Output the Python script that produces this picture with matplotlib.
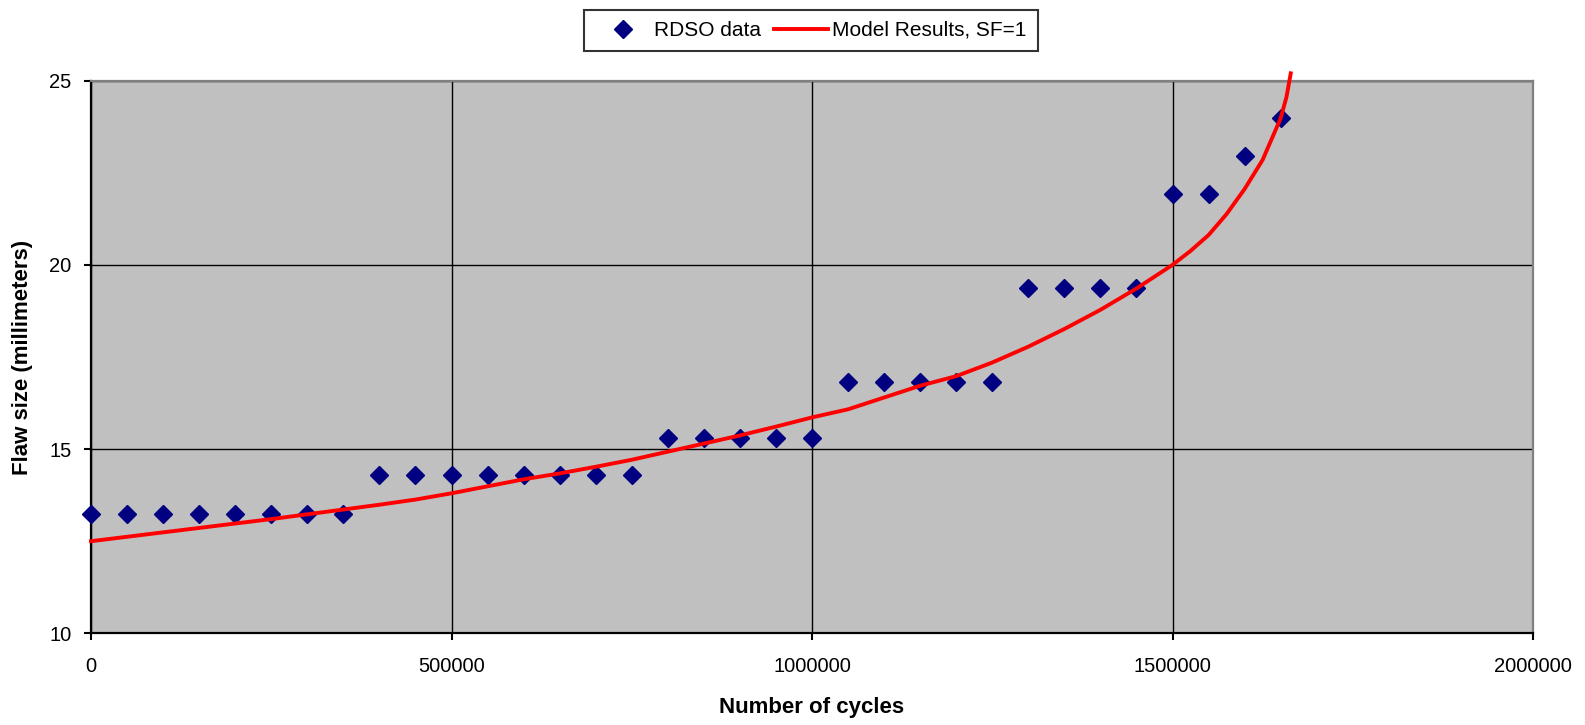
import matplotlib
matplotlib.use("Agg")
import matplotlib.pyplot as plt

plt.rcParams['font.family'] = ['Liberation Sans', 'DejaVu Sans']

# Measured crack growth (RDSO)
rdso_cycles = [0, 50000, 100000, 150000, 200000, 250000, 300000, 350000,
               400000, 450000, 500000, 550000, 600000, 650000, 700000, 750000,
               800000, 850000, 900000, 950000, 1000000,
               1050000, 1100000, 1150000, 1200000, 1250000,
               1300000, 1350000, 1400000, 1450000,
               1500000, 1550000, 1600000, 1650000]
rdso_flaw = [13.25, 13.25, 13.25, 13.25, 13.25, 13.25, 13.25, 13.25,
             14.3, 14.3, 14.3, 14.3, 14.3, 14.3, 14.3, 14.3,
             15.3, 15.3, 15.3, 15.3, 15.3,
             16.83, 16.83, 16.83, 16.83, 16.83,
             19.38, 19.38, 19.38, 19.38,
             21.92, 21.92, 22.96, 23.98]

# Model prediction, safety factor 1
model_cycles = [0, 50000, 100000, 150000, 200000, 250000, 300000, 350000,
                400000, 450000, 500000, 550000, 600000, 650000, 700000, 750000,
                800000, 850000, 900000, 950000, 1000000, 1050000, 1100000,
                1150000, 1200000, 1250000, 1300000, 1350000, 1400000, 1450000,
                1500000, 1525000, 1550000, 1575000, 1600000, 1625000, 1650000,
                1658000, 1664000]
model_flaw = [12.50, 12.62, 12.74, 12.86, 12.98, 13.10, 13.23, 13.36,
              13.49, 13.63, 13.80, 13.99, 14.18, 14.34, 14.52, 14.71,
              14.93, 15.15, 15.37, 15.61, 15.86, 16.08, 16.40,
              16.72, 16.98, 17.35, 17.78, 18.26, 18.78, 19.36,
              20.00, 20.38, 20.81, 21.38, 22.06, 22.85, 23.98,
              24.55, 25.20]

x_ticks = [0, 500000, 1000000, 1500000, 2000000]
y_ticks = [10, 15, 20, 25]

fig = plt.figure(figsize=(15.85, 7.25), dpi=100)
ax = fig.add_axes([91 / 1585, 1 - 633.3 / 725, (1533 - 91) / 1585, (633.3 - 80.7) / 725])
ax.set_facecolor('#C0C0C0')

ax.plot(rdso_cycles, rdso_flaw, linestyle='none', marker='D', markersize=9,
        color='#000080', label='RDSO data', zorder=3, clip_on=False)
ax.plot(model_cycles, model_flaw, color='#FF0000', linewidth=2.8,
        label='Model Results, SF=1', zorder=4, clip_on=False,
        solid_joinstyle='round')

ax.set_xlim(0, 2000000)
ax.set_ylim(10, 25)
ax.set_xticks(x_ticks)
ax.set_yticks(y_ticks)
ax.set_xticklabels([str(v) for v in x_ticks])
ax.set_yticklabels([str(v) for v in y_ticks])
ax.grid(True, color='black', linewidth=1.0, zorder=1)
ax.set_axisbelow(True)

for side in ('left', 'bottom'):
    ax.spines[side].set_color('black')
    ax.spines[side].set_linewidth(1.6)
for side in ('top', 'right'):
    ax.spines[side].set_color('#808080')
    ax.spines[side].set_linewidth(1.6)

ax.tick_params(axis='both', direction='out', length=5, width=1.5, color='black',
               labelsize=14.5)
ax.tick_params(axis='x', pad=12)
ax.tick_params(axis='y', pad=9)

ax.set_xlabel('Number of cycles', fontsize=16, fontweight='bold', labelpad=15)
ax.set_ylabel('Flaw size (millimeters)', fontsize=16, fontweight='bold', labelpad=12)

leg = fig.legend(loc='center', bbox_to_anchor=(811 / 1585, 1 - 30.5 / 725), ncol=2,
                 fontsize=15, frameon=True, fancybox=False, edgecolor='black',
                 handlelength=2.6, handletextpad=0.2, columnspacing=0.6,
                 borderpad=0.55)
leg.get_frame().set_linewidth(1.5)

fig.savefig('out.png', dpi=100)
